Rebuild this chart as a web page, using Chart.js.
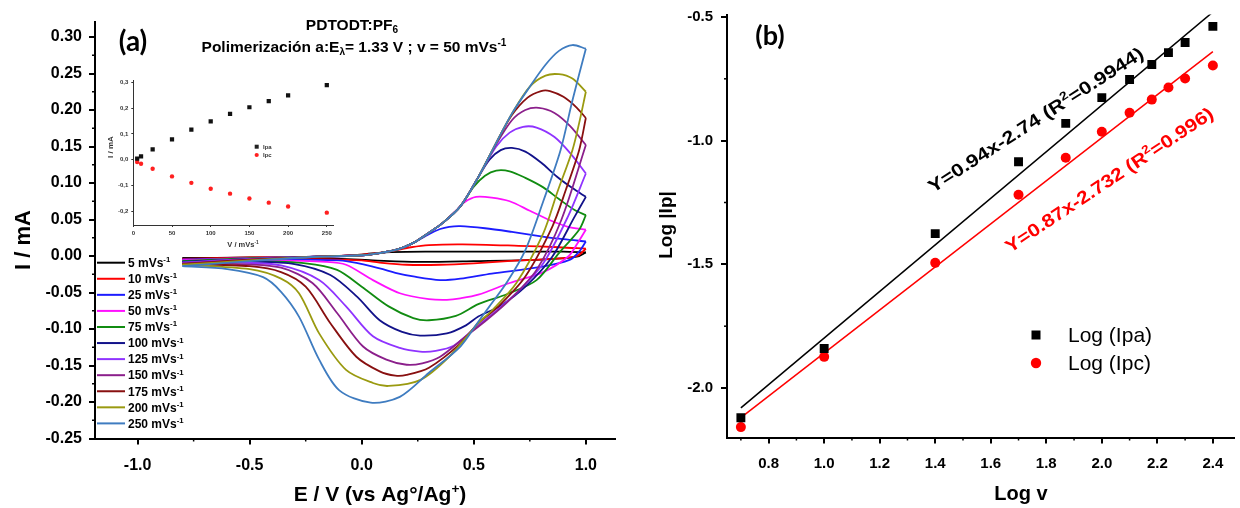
<!DOCTYPE html>
<html>
<head>
<meta charset="utf-8">
<title>PDTODT:PF6 voltametría cíclica</title>
<script src="https://cdn.jsdelivr.net/npm/chart.js@4.4.1/dist/chart.umd.min.js"></script>
<style>
  html, body { margin: 0; padding: 0; background: #fff; }
  #page { position: relative; width: 1240px; height: 508px; overflow: hidden; background: #fff; }
  #page canvas { position: absolute; }
</style>
</head>
<body>
<div id="page">
  <canvas id="chartA" width="620" height="508" style="left:0;top:0"></canvas>
  <canvas id="chartB" width="620" height="508" style="left:620px;top:0"></canvas>
  <canvas id="inset" width="250" height="190" style="left:100px;top:70px"></canvas>
</div>
<script>
// velocidades de barrido (mV/s)
const scanRates = [5, 10, 25, 50, 75, 100, 125, 150, 175, 200, 250];
const cvColors = ["#000000", "#ff0000", "#1c1cff", "#ff10ff", "#118c11", "#12128a",
  "#8f33ff", "#8b1f8b", "#881010", "#9a9a10", "#3f7cc0"];

// voltamperogramas [E (V), I (mA)]: ida hasta 1.0 V y vuelta a -0.8 V
const cv5 = [[-0.8, -0.003], [-0.5, -0.002], [-0.2, -0.001], [0.0, 0.002], [0.1, 0.005], [0.3, 0.006],
  [0.6, 0.006], [0.9, 0.006], [1.0, 0.005],
  [0.96, -0.001], [0.8, -0.005], [0.5, -0.007], [0.25, -0.008], [0.05, -0.006], [-0.2, -0.003], [-0.8, -0.003]];
const cv10 = [[-0.8, -0.004], [-0.5, -0.002], [-0.2, -0.001], [0.0, 0.002], [0.12, 0.006], [0.22, 0.012],
  [0.3, 0.015], [0.45, 0.016], [0.7, 0.014], [0.88, 0.012], [1.0, 0.010],
  [0.96, 0.0], [0.85, -0.004], [0.7, -0.006], [0.5, -0.010], [0.35, -0.012], [0.2, -0.012], [0.08, -0.009],
  [0.0, -0.006], [-0.3, -0.004], [-0.8, -0.004]];
const cv25 = [[-0.8, -0.005], [-0.5, -0.003], [-0.2, -0.001], [0.0, 0.001], [0.08, 0.004], [0.16, 0.009],
  [0.23, 0.018], [0.3, 0.030], [0.35, 0.037], [0.39, 0.040], [0.44, 0.041], [0.55, 0.038], [0.67, 0.033],
  [0.8, 0.027], [0.9, 0.023], [1.0, 0.020],
  [0.97, 0.006], [0.93, -0.005], [0.8, -0.015], [0.58, -0.024], [0.44, -0.031], [0.35, -0.033], [0.23, -0.028],
  [0.15, -0.023], [0.08, -0.017], [-0.07, -0.007], [-0.3, -0.005], [-0.8, -0.005]];
const cv50 = [[-0.8, -0.006], [-0.5, -0.003], [-0.2, -0.001], [0.0, 0.001], [0.08, 0.004], [0.16, 0.009],
  [0.23, 0.018], [0.3, 0.032], [0.36, 0.045], [0.42, 0.062], [0.46, 0.074], [0.51, 0.081], [0.58, 0.080],
  [0.66, 0.075], [0.75, 0.062], [0.84, 0.049], [0.92, 0.040], [1.0, 0.036],
  [0.96, 0.016], [0.92, -0.001], [0.81, -0.022], [0.66, -0.037], [0.52, -0.053], [0.44, -0.058], [0.38, -0.060],
  [0.30, -0.059], [0.17, -0.051], [0.05, -0.033], [-0.07, -0.012], [-0.16, -0.008], [-0.4, -0.006], [-0.8, -0.006]];
const cv75 = [[-0.8, -0.007], [-0.5, -0.003], [-0.2, -0.001], [0.0, 0.001], [0.08, 0.004], [0.16, 0.009],
  [0.23, 0.018], [0.3, 0.032], [0.36, 0.045], [0.44, 0.068], [0.5, 0.095], [0.55, 0.110], [0.6, 0.117],
  [0.66, 0.116], [0.73, 0.107], [0.81, 0.094], [0.88, 0.078], [0.95, 0.063], [1.0, 0.056],
  [0.97, 0.036], [0.88, 0.004], [0.78, -0.033], [0.65, -0.052], [0.52, -0.066], [0.42, -0.082], [0.30, -0.088],
  [0.23, -0.085], [0.12, -0.069], [0.0, -0.042], [-0.11, -0.019], [-0.25, -0.010], [-0.5, -0.007], [-0.8, -0.007]];
const cv100 = [[-0.8, -0.008], [-0.5, -0.004], [-0.2, -0.001], [0.0, 0.001], [0.08, 0.004], [0.16, 0.009],
  [0.23, 0.018], [0.3, 0.032], [0.36, 0.045], [0.44, 0.068], [0.52, 0.108], [0.57, 0.132], [0.62, 0.145],
  [0.67, 0.148], [0.73, 0.143], [0.8, 0.128], [0.87, 0.109], [0.94, 0.093], [1.0, 0.081],
  [0.95, 0.054], [0.85, -0.001], [0.73, -0.042], [0.62, -0.068], [0.52, -0.083], [0.465, -0.095], [0.38, -0.106],
  [0.26, -0.109], [0.18, -0.104], [0.08, -0.088], [-0.02, -0.056], [-0.14, -0.026], [-0.3, -0.011], [-0.5, -0.008],
  [-0.8, -0.008]];
const cv125 = [[-0.8, -0.009], [-0.5, -0.004], [-0.2, -0.001], [0.0, 0.001], [0.08, 0.004], [0.16, 0.009],
  [0.23, 0.018], [0.3, 0.032], [0.36, 0.045], [0.44, 0.068], [0.52, 0.108], [0.6, 0.150], [0.66, 0.169],
  [0.72, 0.177], [0.78, 0.176], [0.86, 0.163], [0.93, 0.141], [1.0, 0.113],
  [0.92, 0.054], [0.81, -0.010], [0.69, -0.051], [0.58, -0.080], [0.5, -0.100], [0.41, -0.123], [0.33, -0.130],
  [0.26, -0.131], [0.17, -0.126], [0.05, -0.110], [-0.07, -0.069], [-0.19, -0.033], [-0.36, -0.013], [-0.55, -0.009],
  [-0.8, -0.009]];
const cv150 = [[-0.8, -0.010], [-0.5, -0.005], [-0.2, -0.001], [0.0, 0.001], [0.08, 0.004], [0.16, 0.009],
  [0.23, 0.018], [0.3, 0.032], [0.36, 0.045], [0.44, 0.068], [0.52, 0.108], [0.6, 0.153], [0.67, 0.186],
  [0.73, 0.200], [0.79, 0.203], [0.86, 0.196], [0.93, 0.178], [1.0, 0.152],
  [0.89, 0.049], [0.78, -0.019], [0.66, -0.060], [0.56, -0.087], [0.465, -0.110], [0.35, -0.138], [0.27, -0.147],
  [0.2, -0.149], [0.11, -0.142], [0.006, -0.124], [-0.11, -0.078], [-0.22, -0.037], [-0.36, -0.016], [-0.55, -0.011],
  [-0.8, -0.010]];
const cv175 = [[-0.8, -0.011], [-0.5, -0.005], [-0.2, -0.001], [0.0, 0.001], [0.08, 0.004], [0.16, 0.009],
  [0.23, 0.018], [0.3, 0.032], [0.36, 0.045], [0.44, 0.068], [0.52, 0.108], [0.6, 0.155], [0.67, 0.193],
  [0.74, 0.217], [0.8, 0.226], [0.84, 0.226], [0.9, 0.218], [0.96, 0.203], [1.0, 0.189],
  [0.97, 0.145], [0.91, 0.090], [0.85, 0.040], [0.73, -0.028], [0.61, -0.069], [0.52, -0.092], [0.44, -0.120],
  [0.3, -0.153], [0.2, -0.163], [0.15, -0.164], [0.08, -0.158], [-0.024, -0.138], [-0.14, -0.092], [-0.25, -0.042],
  [-0.36, -0.022], [-0.5, -0.014], [-0.8, -0.011]];
const cv200 = [[-0.8, -0.012], [-0.5, -0.006], [-0.2, -0.001], [0.0, 0.001], [0.08, 0.004], [0.16, 0.009],
  [0.23, 0.018], [0.3, 0.032], [0.36, 0.045], [0.44, 0.068], [0.52, 0.108], [0.6, 0.155], [0.67, 0.195],
  [0.75, 0.232], [0.82, 0.247], [0.88, 0.249], [0.94, 0.243], [1.0, 0.225],
  [0.97, 0.182], [0.94, 0.145], [0.87, 0.085], [0.81, 0.031], [0.69, -0.037], [0.58, -0.075], [0.52, -0.092],
  [0.39, -0.138], [0.26, -0.170], [0.12, -0.178], [0.05, -0.174], [-0.07, -0.156], [-0.19, -0.106], [-0.28, -0.051],
  [-0.36, -0.031], [-0.5, -0.018], [-0.8, -0.012]];
const cv250 = [[-0.8, -0.014], [-0.5, -0.007], [-0.2, -0.001], [0.0, 0.001], [0.08, 0.004], [0.16, 0.009],
  [0.23, 0.018], [0.3, 0.032], [0.36, 0.045], [0.44, 0.068], [0.52, 0.108], [0.6, 0.155], [0.67, 0.195],
  [0.75, 0.232], [0.82, 0.262], [0.88, 0.281], [0.94, 0.289], [1.0, 0.284],
  [0.94, 0.213], [0.887, 0.145], [0.81, 0.075], [0.73, 0.008], [0.65, -0.035], [0.57, -0.069], [0.52, -0.090],
  [0.44, -0.124], [0.3, -0.160], [0.17, -0.193], [0.04, -0.201], [-0.1, -0.184], [-0.19, -0.142], [-0.28, -0.083],
  [-0.36, -0.049], [-0.44, -0.029], [-0.6, -0.018], [-0.8, -0.014]];
const cvCurves = [cv5, cv10, cv25, cv50, cv75, cv100, cv125, cv150, cv175, cv200, cv250];

// inset: corrientes de pico (mA) vs velocidad de barrido
const peakIpa = [0.004, 0.013, 0.040, 0.079, 0.117, 0.149, 0.178, 0.204, 0.228, 0.250, 0.290];
const peakIpc = [-0.009, -0.016, -0.035, -0.065, -0.090, -0.113, -0.132, -0.151, -0.167, -0.182, -0.206];

// panel (b): log-log
const logV = [0.70, 1.00, 1.40, 1.70, 1.87, 2.00, 2.10, 2.18, 2.24, 2.30, 2.40];
const logIpa = [-2.12, -1.84, -1.376, -1.085, -0.93, -0.826, -0.753, -0.692, -0.644, -0.603, -0.538];
const logIpc = [-2.158, -1.874, -1.494, -1.219, -1.069, -0.964, -0.887, -0.834, -0.785, -0.749, -0.696];
const fitIpa = [[0.70, -2.08], [2.40, -0.48]];
const fitIpc = [[0.70, -2.12], [2.40, -0.64]];

const SANS = "'Liberation Sans', Arial, sans-serif";

function richWidth(ctx, parts, size, weight) {
  let w = 0;
  parts.forEach(([t, m]) => {
    ctx.font = `${weight} ${m ? size * 0.65 : size}px ${SANS}`;
    w += ctx.measureText(t).width;
  });
  return w;
}

// texto con sub/superíndices: parts = [[texto, "" | "sup" | "sub"], ...]
function drawRich(ctx, parts, x, y, size, align, weight) {
  weight = weight || "bold";
  const w = richWidth(ctx, parts, size, weight);
  let cx = align === "center" ? x - w / 2 : align === "right" ? x - w : x;
  ctx.textAlign = "left";
  ctx.textBaseline = "alphabetic";
  parts.forEach(([t, m]) => {
    ctx.font = `${weight} ${m ? size * 0.65 : size}px ${SANS}`;
    const dy = m === "sup" ? -size * 0.4 : m === "sub" ? size * 0.22 : 0;
    ctx.fillText(t, cx, y + dy);
    cx += ctx.measureText(t).width;
  });
}

// texto girado y ajustado a un ancho dado
function drawFitted(ctx, parts, cx, cy, deg, size, width, color) {
  ctx.save();
  ctx.translate(cx, cy);
  ctx.rotate(deg * Math.PI / 180);
  ctx.scale(width / richWidth(ctx, parts, size, "bold"), 1);
  ctx.fillStyle = color;
  drawRich(ctx, parts, 0, size * 0.36, size, "center");
  ctx.restore();
}

const minorTicks = {
  id: "minorTicks",
  afterDraw(chart, args, opts) {
    const ctx = chart.ctx;
    ctx.save();
    ctx.strokeStyle = opts.color || "#000";
    ctx.lineWidth = opts.width || 1.5;
    ["x", "y"].forEach((k) => {
      const step = opts[k];
      if (!step) return;
      const sc = chart.scales[k];
      for (let i = Math.ceil(sc.min / step - 1e-9); i * step <= sc.max + 1e-9; i++) {
        if (i % 2 === 0) continue;
        const p = sc.getPixelForValue(i * step);
        ctx.beginPath();
        if (k === "x") { ctx.moveTo(p, sc.top); ctx.lineTo(p, sc.top + opts.len); }
        else { ctx.moveTo(sc.right, p); ctx.lineTo(sc.right - opts.len, p); }
        ctx.stroke();
      }
    });
    ctx.restore();
  },
};

function axis(o) {
  return {
    type: "linear",
    min: o.min,
    max: o.max,
    afterFit(s) {
      if (s.isHorizontal()) s.height = o.size; else s.width = o.size;
      s.paddingTop = s.paddingBottom = s.paddingLeft = s.paddingRight = 0;
    },
    border: { display: true, color: "#000", width: o.line },
    grid: { display: true, drawOnChartArea: false, drawTicks: true, tickLength: o.tick, color: "#000", lineWidth: o.line },
    ticks: {
      stepSize: o.step, includeBounds: false, autoSkip: false, maxRotation: 0, padding: o.pad,
      color: o.color || "#000", font: { family: SANS, weight: "bold", size: o.font }, callback: o.fmt,
    },
  };
}

const fix = (d) => (v) => (Math.abs(v) < 1e-9 ? 0 : v).toFixed(d);

// ---------- panel (a) ----------
const cvDatasets = [];
cvCurves.forEach((pts, i) => {
  const maxE = Math.max(...pts.map((p) => p[0]));
  const turn = pts.findIndex((p) => p[0] === maxE);
  [pts.slice(0, turn + 1), pts.slice(turn)].forEach((seg) => {
    cvDatasets.push({
      data: seg.map(([x, y]) => ({ x, y })),
      borderColor: cvColors[i], borderWidth: 1.8, pointRadius: 0,
      showLine: true, tension: 0.3, fill: false,
    });
  });
});
cvDatasets.reverse();

const textA = {
  id: "textA",
  afterDraw(chart) {
    const ctx = chart.ctx;
    ctx.save();
    ctx.fillStyle = "#000";
    ctx.font = "bold 28px Lato, sans-serif";
    ctx.textAlign = "center";
    ctx.textBaseline = "alphabetic";
    ctx.fillText("(a)", 133, 51);
    drawRich(ctx, [["PDTODT:PF", ""], ["6", "sub"]], 352, 30, 15.5, "center");
    drawRich(ctx, [["Polimerización a:E", ""], ["λ", "sub"], ["= 1.33 V ; v = 50 mVs", ""], ["-1", "sup"]],
      354, 52, 15.5, "center");
    drawRich(ctx, [["E / V (vs Ag°/Ag", ""], ["+", "sup"], [")", ""]], 380, 501, 21, "center");

    // leyenda
    scanRates.forEach((r, i) => {
      const y = 262.7 + i * 16.07;
      ctx.strokeStyle = cvColors[i];
      ctx.lineWidth = 2;
      ctx.beginPath();
      ctx.moveTo(97, y);
      ctx.lineTo(125, y);
      ctx.stroke();
      ctx.fillStyle = "#000";
      drawRich(ctx, [[r + " mVs", ""], ["-1", "sup"]], 128, y + 4.3, 12, "left");
    });

    ctx.translate(30, 240);
    ctx.rotate(-Math.PI / 2);
    drawRich(ctx, [["I / mA", ""]], 0, 0, 22, "center");
    ctx.restore();
  },
};

new Chart(document.getElementById("chartA"), {
  type: "scatter",
  data: { datasets: cvDatasets },
  options: {
    responsive: false,
    animation: false,
    layout: { padding: { left: 0, top: 22.4, right: 5, bottom: 29.5 } },
    plugins: { legend: { display: false }, tooltip: { enabled: false }, minorTicks: { x: 0.25, y: 0.025, len: 3 } },
    scales: {
      x: axis({ min: -1.19, max: 1.13, step: 0.5, size: 40, tick: 6, line: 2, pad: 11, font: 16, fmt: fix(1) }),
      y: axis({ min: -0.25, max: 0.32, step: 0.05, size: 95, tick: 6, line: 2, pad: 7, font: 16, fmt: fix(2) }),
    },
  },
  plugins: [minorTicks, textA],
});

// ---------- inset ----------
const textInset = {
  id: "textInset",
  afterDraw(chart) {
    const ctx = chart.ctx;
    ctx.save();
    ctx.fillStyle = "#222";
    ctx.fillRect(154.7, 74.7, 4, 4);
    ctx.fillStyle = "#ff2020";
    ctx.beginPath();
    ctx.arc(156.7, 85, 2.1, 0, Math.PI * 2);
    ctx.fill();
    ctx.fillStyle = "#333";
    drawRich(ctx, [["Ipa", ""]], 163, 79, 6, "left");
    drawRich(ctx, [["Ipc", ""]], 163, 87.3, 6, "left");
    drawRich(ctx, [["V / mVs", ""], ["-1", "sup"]], 143, 177, 7.5, "center");
    ctx.translate(13, 77);
    ctx.rotate(-Math.PI / 2);
    drawRich(ctx, [["I / mA", ""]], 0, 0, 8, "center");
    ctx.restore();
  },
};

function insetAxis(o) {
  const a = axis(o);
  a.border.color = "#333";
  a.grid.color = "#333";
  return a;
}

new Chart(document.getElementById("inset"), {
  type: "scatter",
  data: {
    datasets: [
      { data: scanRates.map((v, i) => ({ x: v, y: peakIpa[i] })), pointStyle: "rect", pointRadius: 3,
        backgroundColor: "#111", borderWidth: 0 },
      { data: scanRates.map((v, i) => ({ x: v, y: peakIpc[i] })), pointStyle: "circle", pointRadius: 2.2,
        backgroundColor: "#ff2020", borderWidth: 0 },
    ],
  },
  options: {
    responsive: false,
    animation: false,
    layout: { padding: { left: 0, top: 10, right: 17, bottom: 15 } },
    plugins: { legend: { display: false }, tooltip: { enabled: false } },
    scales: {
      x: insetAxis({ min: 0, max: 258, step: 50, size: 20, tick: 2, line: 1, pad: 3, font: 6, color: "#333",
        fmt: (v) => String(v) }),
      y: insetAxis({ min: -0.254, max: 0.31, step: 0.1, size: 33.3, tick: 2, line: 1, pad: 3, font: 6, color: "#333",
        fmt: (v) => fix(1)(v).replace(".", ",") }),
    },
  },
  plugins: [textInset],
});

// ---------- panel (b) ----------
const textB = {
  id: "textB",
  afterDraw(chart) {
    const ctx = chart.ctx;
    ctx.save();
    ctx.fillStyle = "#000";
    ctx.font = "bold 27px Lato, sans-serif";
    ctx.textAlign = "center";
    ctx.textBaseline = "alphabetic";
    ctx.fillText("(b)", 150, 45);
    drawRich(ctx, [["Log v", ""]], 401, 500, 20, "center");
    drawFitted(ctx, [["Y=0.94x-2.74 (R", ""], ["2", "sup"], ["=0.9944)", ""]], 415.5, 119.5, -32.8, 18, 252, "#000");
    drawFitted(ctx, [["Y=0.87x-2.732 (R", ""], ["2", "sup"], ["=0.996)", ""]], 489, 179.5, -33.7, 18, 246, "#ff0000");

    // leyenda
    ctx.fillStyle = "#000";
    ctx.fillRect(411.5, 330.5, 9, 9);
    ctx.fillStyle = "#ff0000";
    ctx.beginPath();
    ctx.arc(416, 363, 5.2, 0, Math.PI * 2);
    ctx.fill();
    ctx.fillStyle = "#000";
    drawRich(ctx, [["Log (Ipa)", ""]], 448, 342, 21, "left", "normal");
    drawRich(ctx, [["Log (Ipc)", ""]], 448, 370, 21, "left", "normal");

    ctx.translate(52, 225);
    ctx.rotate(-Math.PI / 2);
    drawRich(ctx, [["Log |Ip|", ""]], 0, 0, 19, "center");
    ctx.restore();
  },
};

new Chart(document.getElementById("chartB"), {
  type: "scatter",
  data: {
    datasets: [
      { data: logV.map((v, i) => ({ x: v, y: logIpa[i] })), pointStyle: "rect", pointRadius: 6.3,
        backgroundColor: "#000", borderWidth: 0 },
      { data: logV.map((v, i) => ({ x: v, y: logIpc[i] })), pointStyle: "circle", pointRadius: 5,
        backgroundColor: "#ff0000", borderWidth: 0 },
      { data: fitIpa.map(([x, y]) => ({ x, y })), showLine: true, pointRadius: 0, borderColor: "#000", borderWidth: 1.5 },
      { data: fitIpc.map(([x, y]) => ({ x, y })), showLine: true, pointRadius: 0, borderColor: "#ff0000", borderWidth: 1.5 },
    ],
  },
  options: {
    responsive: false,
    animation: false,
    layout: { padding: { left: 0, top: 14.5, right: 0, bottom: 30.5 } },
    plugins: { legend: { display: false }, tooltip: { enabled: false }, minorTicks: { x: 0.1, y: 0.25, len: 3 } },
    scales: {
      x: axis({ min: 0.65, max: 2.475, step: 0.2, size: 40, tick: 6, line: 2, pad: 11, font: 15, fmt: fix(1) }),
      y: axis({ min: -2.2, max: -0.49, step: 0.5, size: 107, tick: 6, line: 2, pad: 8, font: 15, fmt: fix(1) }),
    },
  },
  plugins: [minorTicks, textB],
});
</script>
</body>
</html>
